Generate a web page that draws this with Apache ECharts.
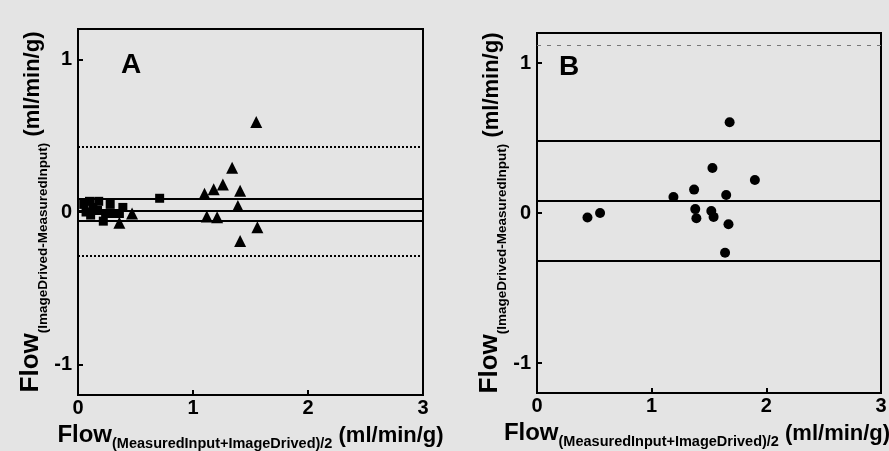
<!DOCTYPE html>
<html>
<head>
<meta charset="utf-8">
<script src="https://cdn.jsdelivr.net/npm/echarts@6/dist/echarts.min.js"></script>
<style>
html,body{margin:0;padding:0;background:#e4e4e4;}
#chart{width:889px;height:451px;}
</style>
</head>
<body>
<div id="chart"></div>
<script>
// ---- data ----
var panelLabels = ['A', 'B'];
var xTicks = [0, 1, 2, 3];
var yTicks = [-1, 0, 1];

// Panel A
var aSquares = [
  [0.10, 0.07], [0.18, 0.07], [0.13, 0.03], [0.11, -0.02], [0.05, 0.05],
  [0.07, 0.00], [0.24, -0.01], [0.31, -0.01], [0.36, -0.01], [0.22, -0.06],
  [0.28, 0.05], [0.17, 0.01], [0.39, 0.03], [0.71, 0.09]
];
var aTriangles = [
  [1.55, 0.59], [1.34, 0.29], [1.26, 0.18], [1.18, 0.15], [1.41, 0.14],
  [1.10, 0.12], [1.39, 0.04], [1.12, -0.03], [1.21, -0.035], [1.56, -0.10],
  [1.41, -0.19], [0.47, -0.01], [0.36, -0.07]
];
var aSolidLines = [0.085, 0.01, -0.06];
var aDottedLines = [0.43, -0.29];

// Panel B
var bCircles = [
  [1.68, 0.605], [1.53, 0.30], [1.90, 0.22], [1.37, 0.156], [1.65, 0.12],
  [1.19, 0.107], [0.44, -0.03], [0.55, 0.00], [1.38, 0.026], [1.39, -0.035],
  [1.52, 0.013], [1.54, -0.026], [1.67, -0.075], [1.64, -0.265]
];
var bSolidLines = [0.48, 0.08, -0.32];
var bScanLine = [1.12];

// ---- chart ----
var FONT = 'Liberation Sans, Arial, sans-serif';
var chart = echarts.init(document.getElementById('chart'), null, {renderer: 'canvas'});

function xAxisCfg(gridIndex, shiftPad) {
  return {
    type: 'value', gridIndex: gridIndex, min: 0, max: 3, interval: 1,
    axisLine: {show: true, onZero: false, lineStyle: {color: '#000', width: 2}},
    axisTick: {show: true, inside: true, length: 5, lineStyle: {color: '#000', width: 2}},
    axisLabel: {color: '#000', fontFamily: FONT, fontWeight: 'bold', fontSize: 20, margin: 3},
    splitLine: {show: false},
    name: '{f|Flow}{s|(MeasuredInput+ImageDrived)/2}{u| (ml/min/g)}',
    nameLocation: 'middle', nameGap: 26,
    nameTextStyle: {
      color: '#000', fontFamily: FONT,
      padding: [0, shiftPad, 0, 0],
      rich: {
        f: {fontSize: 24, fontWeight: 'bold', fontFamily: FONT, color: '#000', lineHeight: 26, verticalAlign: 'bottom'},
        s: {fontSize: 14.5, fontWeight: 'bold', fontFamily: FONT, color: '#000', lineHeight: 12, verticalAlign: 'bottom', padding: [0, 0, -4, 0]},
        u: {fontSize: 22, fontWeight: 'bold', fontFamily: FONT, color: '#000', lineHeight: 26, verticalAlign: 'bottom'}
      }
    }
  };
}
function yAxisCfg(gridIndex) {
  return {
    type: 'value', gridIndex: gridIndex, min: -1.2, max: 1.2,
    axisLine: {show: true, onZero: false, lineStyle: {color: '#000', width: 2}},
    axisTick: {show: true, inside: true, length: 5, customValues: yTicks, lineStyle: {color: '#000', width: 2}},
    axisLabel: {color: '#000', fontFamily: FONT, fontWeight: 'bold', fontSize: 20, margin: 6, customValues: yTicks},
    splitLine: {show: false},
    name: '{f|Flow}{s|(ImageDrived-MeasuredInput)}{u| (ml/min/g)}',
    nameLocation: 'middle', nameGap: 34, nameRotate: 90,
    nameTextStyle: {
      color: '#000', fontFamily: FONT,
      rich: {
        f: {fontSize: 26, fontWeight: 'bold', fontFamily: FONT, color: '#000', lineHeight: 28, verticalAlign: 'bottom'},
        s: {fontSize: 13.5, fontWeight: 'bold', fontFamily: FONT, color: '#000', lineHeight: 12, verticalAlign: 'bottom', padding: [0, 0, -6, 0]},
        u: {fontSize: 22, fontWeight: 'bold', fontFamily: FONT, color: '#000', lineHeight: 28, verticalAlign: 'bottom'}
      }
    }
  };
}
function hLines(values, type, width, color) {
  return values.map(function (v) {
    return {yAxis: v, lineStyle: {type: type, width: width, color: color || '#000'}};
  });
}

var option = {
  backgroundColor: '#e4e4e4',
  animation: false,
  title: [
    {text: panelLabels[0], left: 116, top: 46, textStyle: {fontFamily: FONT, fontWeight: 'bold', fontSize: 28, color: '#000'}},
    {text: panelLabels[1], left: 554, top: 48, textStyle: {fontFamily: FONT, fontWeight: 'bold', fontSize: 28, color: '#000'}}
  ],
  grid: [
    {left: 78, top: 29, width: 345, height: 366, outerBoundsMode: 'none', containLabel: false, show: true, borderColor: '#000', borderWidth: 2, backgroundColor: 'transparent'},
    {left: 537, top: 33, width: 344, height: 360, outerBoundsMode: 'none', containLabel: false, show: true, borderColor: '#000', borderWidth: 2, backgroundColor: 'transparent'}
  ],
  xAxis: [xAxisCfg(0, 0), xAxisCfg(1, 24)],
  yAxis: [yAxisCfg(0), yAxisCfg(1)],
  series: [
    {
      type: 'scatter', xAxisIndex: 0, yAxisIndex: 0, data: aSquares,
      symbol: 'rect', symbolSize: 9, itemStyle: {color: '#000', opacity: 1},
      markLine: {
        silent: true, symbol: 'none', label: {show: false},
        data: hLines(aSolidLines, 'solid', 2).concat(hLines(aDottedLines, 'dotted', 2))
      }
    },
    {
      type: 'scatter', xAxisIndex: 0, yAxisIndex: 0, data: aTriangles,
      symbol: 'triangle', symbolSize: 12, itemStyle: {color: '#000', opacity: 1}
    },
    {
      type: 'scatter', xAxisIndex: 1, yAxisIndex: 1, data: bCircles,
      symbol: 'circle', symbolSize: 10, itemStyle: {color: '#000', opacity: 1},
      markLine: {
        silent: true, symbol: 'none', label: {show: false},
        data: hLines(bSolidLines, 'solid', 2).concat(hLines(bScanLine, [4, 6], 1, '#777'))
      }
    }
  ]
};
chart.setOption(option);
</script>
</body>
</html>
